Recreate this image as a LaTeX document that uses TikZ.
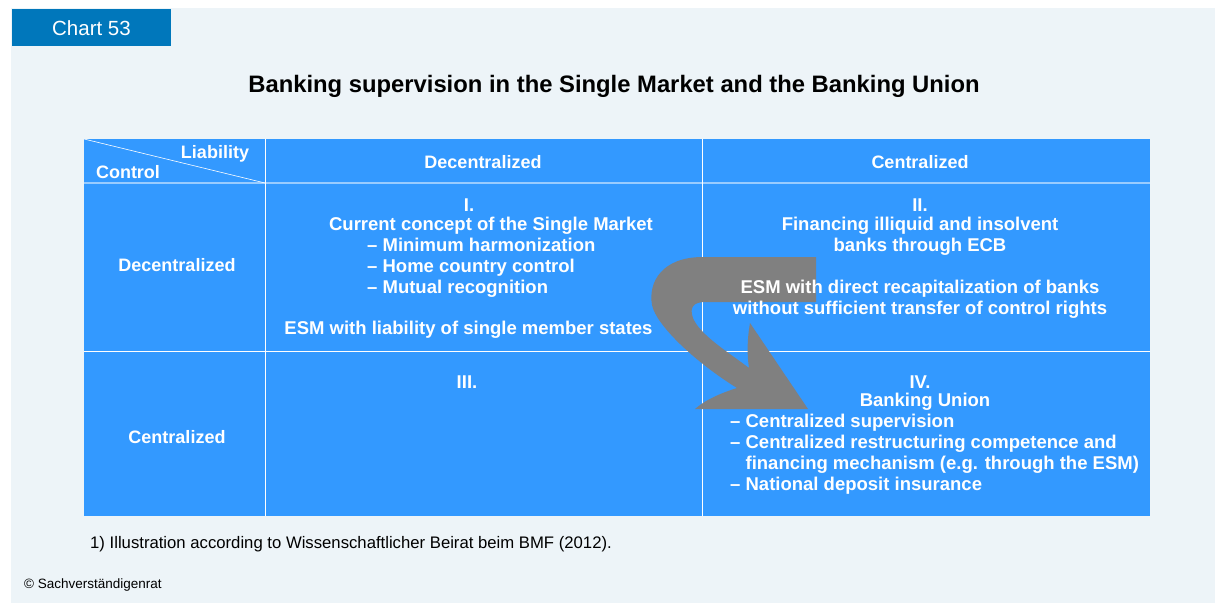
\documentclass[tikz,border=0pt]{standalone}
\usepackage{fontspec}
\setmainfont{Liberation Sans}

\definecolor{chartbg}{HTML}{EDF4F8}
\definecolor{tabblue}{HTML}{0077BB}
\definecolor{cellblue}{HTML}{3399FF}
\definecolor{ruleblue}{HTML}{99CCFF}
\definecolor{arrowgray}{HTML}{808080}

\tikzset{
  celltext/.style={text=white, inner sep=0pt, yshift=-2pt, font=\bfseries\fontsize{18.5}{21}\selectfont},
  headtext/.style={celltext, font=\bfseries\fontsize{18}{21}\selectfont},
  notetext/.style={inner sep=0pt, anchor=west}
}

\begin{document}
\begin{tikzpicture}[x=1pt,y=-1pt]
    \useasboundingbox (0,0) rectangle (1215,603);
    \fill[white] (0,0) rectangle (1215,603);
    \fill[chartbg] (11,8) rectangle (1215,603);

    % tab and title
    \fill[tabblue] (12,9) rectangle (171,46);
    \node[text=white, inner sep=0pt, font=\fontsize{20.5}{24}\selectfont] (tab) at (91.5,28) {Chart 53};
    \node[inner sep=0pt, yshift=-2pt, font=\bfseries\fontsize{23.8}{28}\selectfont] (title) at (614,84)
        {Banking supervision in the Single Market and the Banking Union};

    % table body and rules
    \fill[cellblue] (84,139) rectangle (1150,516);
    \draw[ruleblue, line width=2pt] (84,183) -- (1150,183);
    \draw[white, line width=0.8pt] (84,351) -- (1150,351);
    \draw[white, line width=0.8pt] (265,139) -- (265,516);
    \draw[white, line width=0.8pt] (702,139) -- (702,516);
    \draw[white, line width=0.6pt] (84,139) -- (265,183);

    % the arrow from II to IV
    \fill[arrowgray] (816,257) -- (703,257)
        .. controls (662,257) and (648,282) .. (652,305)
        .. controls (656,325) and (695,362) .. (737,388)
        .. controls (718,394) and (704,401) .. (695,409)
        -- (808,409) -- (750,323)
        .. controls (747,340) and (747,355) .. (749,368)
        .. controls (728,352) and (700,335) .. (693,318)
        .. controls (689,307) and (694,302) .. (705,302)
        -- (816,302) -- cycle;

    % header row
    \node[headtext] (liab) at (215,152) {Liability};
    \node[headtext] (ctrl) at (128,170) {Control};
    \node[headtext] (hdec) at (483,160) {Decentralized};
    \node[headtext] (hcen) at (920,160) {Centralized};
    \node[headtext] (rdec) at (177,263) {Decentralized};
    \node[headtext] (rcen) at (177,435) {Centralized};

    % cell I
    \node[celltext] (one) at (469,203) {I.};
    \node[celltext] (onehead) at (491,224) {Current concept of the Single Market};
    \node[celltext, anchor=west, align=left] (onelist) at (367,266)
        {-- Minimum harmonization\\-- Home country control\\-- Mutual recognition};
    \node[celltext] (oneesm) at (468.5,328) {ESM with liability of single member states};

    % cell II
    \node[celltext] (two) at (920,203) {II.};
    \node[celltext, align=center] (twohead) at (920,234.5)
        {Financing illiquid and insolvent\\banks through ECB};
    \node[celltext, align=center] (twoesm) at (920,297)
        {ESM with direct recapitalization of banks\\without sufficient transfer of control rights};

    % cell III
    \node[celltext] (three) at (467,380) {III.};

    % cell IV
    \node[celltext] (four) at (920,380) {IV.};
    \node[celltext] (fourhead) at (925,400) {Banking Union};
    \node[celltext, anchor=west, align=left] (fourlist) at (730,452)
        {-- Centralized supervision\\-- Centralized restructuring competence and\\
         \phantom{-- }financing mechanism (e.g. through the ESM)\\-- National deposit insurance};

    % notes
    \node[notetext, font=\fontsize{16.7}{19}\selectfont] (note) at (90,544)
        {1) Illustration according to Wissenschaftlicher Beirat beim BMF (2012).};
    \node[notetext, font=\fontsize{13.5}{16}\selectfont] (copy) at (24,585) {© Sachverständigenrat};
\end{tikzpicture}
\end{document}
